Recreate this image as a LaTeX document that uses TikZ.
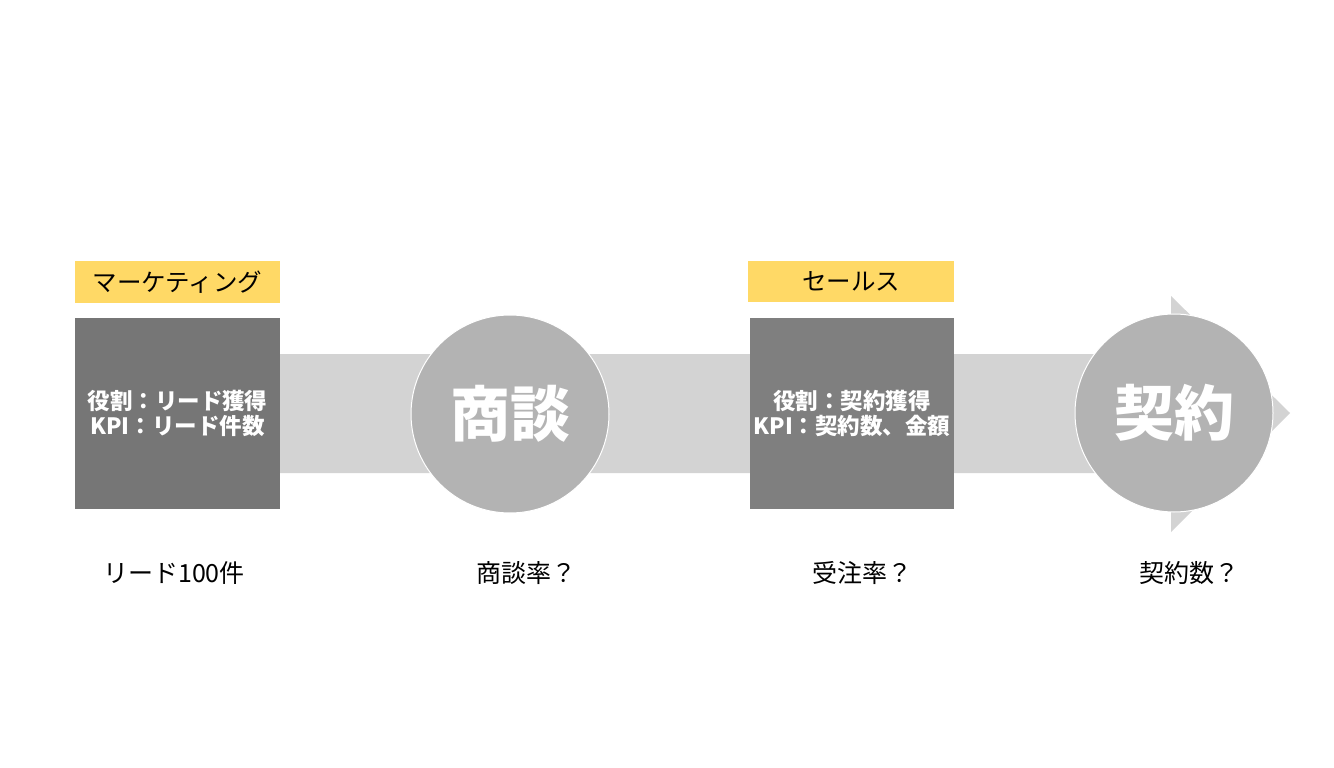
\documentclass[tikz,border=0pt]{standalone}
\usepackage{fontspec}
\setmainfont{Noto Sans CJK JP}
\definecolor{bandgray}{HTML}{D3D3D3}
\definecolor{circgray}{HTML}{B3B3B3}
\definecolor{boxgrayA}{HTML}{767676}
\definecolor{boxgrayB}{HTML}{7F7F7F}
\definecolor{tagyellow}{HTML}{FFD966}
\begin{document}
\begin{tikzpicture}[x=1pt,y=-1pt,
  rolebox/.style={shape=rectangle, draw=none, inner sep=0pt, minimum width=204pt, minimum height=191pt, align=center, text=white, font=\fontsize{22.5}{25}\selectfont\bfseries},
  tag/.style={shape=rectangle, fill=tagyellow, draw=none, inner sep=0pt, minimum width=206pt, minimum height=41pt, font=\fontsize{24.5}{28}\selectfont},
  stage/.style={shape=circle, fill=circgray, draw=white, line width=1pt, inner sep=0pt, minimum size=198pt, text=white, font=\fontsize{60}{64}\selectfont\bfseries},
  rate/.style={shape=rectangle, draw=none, font=\fontsize{25}{28}\selectfont}]
%%%%%%%%%%%%%%%%%%%%%%%%%%%%%%%%%%%%%%%%%%% HELP LINES
%\draw[help lines] (0,0) grid +(1334,768);
\useasboundingbox (0,0) rectangle (1334,768);

%%%%%%%%%%%%%%%%%%%%%%%%%%%%%%%%%%%%%%%%%%% arrow
\fill[bandgray] (278,354) -- (1171,354) -- (1171,296) -- (1290,413) -- (1171,532) -- (1171,473) -- (278,473) -- cycle;

%%%%%%%%%%%%%%%%%%%%%%%%%%%%%%%%%%%%%%%%%%% elements
\node[rolebox, fill=boxgrayA, minimum width=205pt](mkbox) at (177.5,413.5){役割：リード獲得\\KPI：リード件数};
\node[tag, minimum width=205pt, minimum height=42pt](mktag) at (177.5,282){マーケティング};
\node[stage](meet) at (510,414){商談};
\node[rolebox, fill=boxgrayB](slbox) at (852,413.5){役割：契約獲得\\KPI：契約数、金額};
\node[tag](sltag) at (851,281.5){セールス};
\node[stage](deal) at (1174,413){契約};

%%%%% rates
\node[rate](leads) at (174,573){リード100件};
\node[rate](meetrate) at (526,573){商談率？};
\node[rate](winrate) at (862,573){受注率？};
\node[rate](dealnum) at (1189,573){契約数？};
\end{tikzpicture}
\end{document}
